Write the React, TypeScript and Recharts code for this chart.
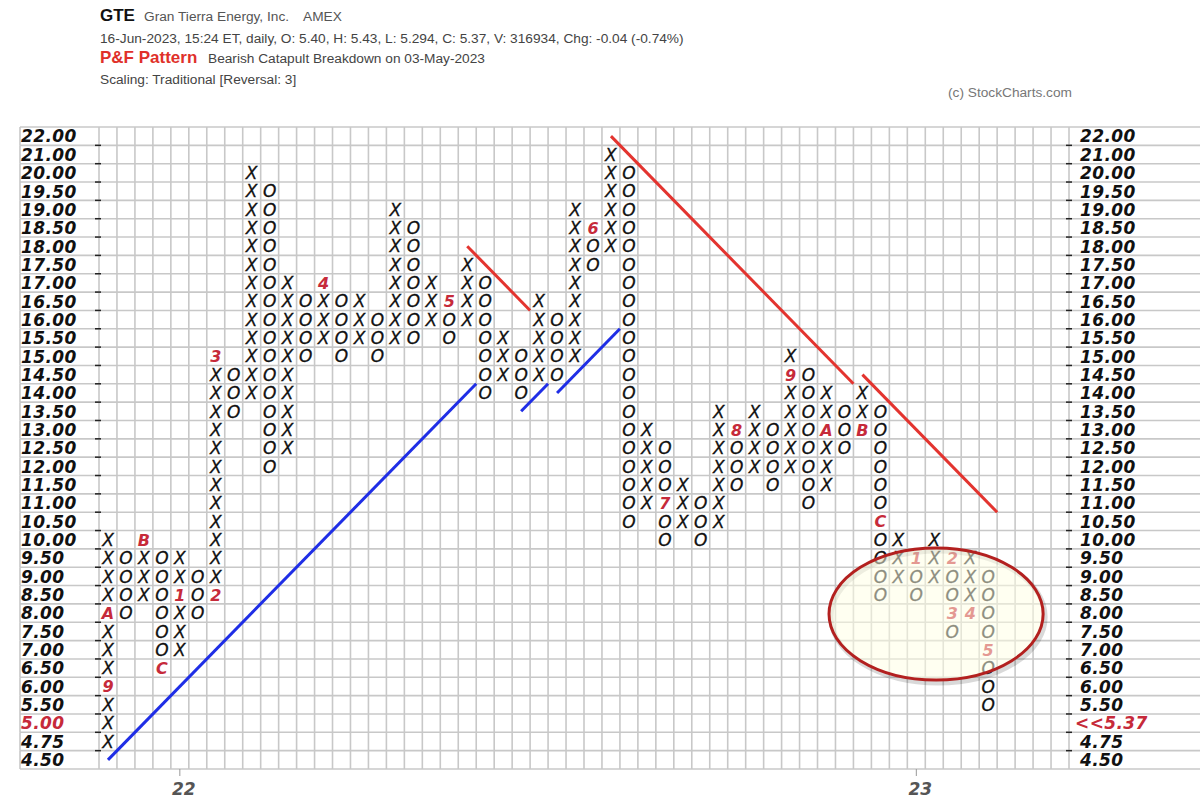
import {
  ScatterChart,
  Scatter,
  XAxis,
  YAxis,
  CartesianGrid,
  ReferenceLine,
} from "recharts";

// traditional box scale, bottom row first
const PRICES = [
  4.5, 4.75, 5, 5.5, 6, 6.5, 7, 7.5, 8, 8.5, 9, 9.5, 10, 10.5, 11, 11.5, 12,
  12.5, 13, 13.5, 14, 14.5, 15, 15.5, 16, 16.5, 17, 17.5, 18, 18.5, 19, 19.5,
  20, 21, 22,
];

// one entry per P&F column
const COL_TYPES = "XOXOXOXOXOXOXOXOXOXOXOXOXOXOXOXOXOXOXOXOXOXOXOXOXO".split("");
const COL_LOW = [
  4.75, 8, 8.5, 6.5, 7, 8, 8.5, 13.5, 14, 12, 12.5, 15, 15.5, 15, 15.5, 15,
  15.5, 15.5, 16, 15.5, 16, 14, 14.5, 14, 14.5, 14.5, 15, 17.5, 18, 10.5, 11,
  10, 10.5, 10, 10.5, 11.5, 12, 11.5, 12, 11, 11.5, 12.5, 13, 8.5, 9, 8.5, 9,
  7.5, 8, 5.5,
];
const COL_HIGH = [
  10, 9.5, 10, 9.5, 9.5, 9, 15, 14.5, 20, 19.5, 17, 16.5, 17, 16.5, 16.5, 16,
  19, 18.5, 17, 16.5, 17.5, 17, 15.5, 15, 16.5, 16, 19, 18.5, 21, 20, 13, 12.5,
  11.5, 11, 13.5, 13, 13.5, 13, 15, 14.5, 14, 13.5, 14, 13.5, 10, 9.5, 10, 9.5,
  9.5, 9,
];

// month markers that replace a box
const MONTH_COLS = [0, 0, 2, 3, 4, 6, 6, 12, 19, 27, 31, 35, 38, 40, 42, 43, 45, 47, 47, 48, 49];
const MONTH_PRICES = [6, 8, 10, 6.5, 8.5, 8.5, 15, 17, 16.5, 18.5, 11, 13, 14.5, 13, 13, 10.5, 9.5, 9.5, 8, 8, 7];
const MONTH_LABELS = ["9", "A", "B", "C", "1", "2", "3", "4", "5", "6", "7", "8", "9", "A", "B", "C", "1", "2", "3", "4", "5"];

const YEAR_COLS = [4, 45];
const YEAR_LABELS = ["22", "23"];

// trend lines in box units: [col1, row1, col2, row2]
const TREND_BLUE = [
  [0, 0, 20.5, 20.5],
  [23, 19, 24.5, 20.5],
  [25, 20, 28.5, 23.5],
];
const TREND_RED = [
  [20, 28, 23.5, 24.5],
  [28, 34, 41.5, 20.5],
  [42, 21, 49.5, 13.5],
];

// highlight ellipse (box units)
const ELLIPSE = { x: 46.1, y: 7.95, rx: 5.96, ry: 3.6 };

const NUM_COLS = 54;
const LAST_PRICE = "<<5.37";

const W = 1200;
const H = 811;
const PLOT_LEFT = 99;
const PLOT_RIGHT = 1069;
const PLOT_TOP = 127;
const PLOT_BOTTOM = 769;
const ROW_H = (PLOT_BOTTOM - PLOT_TOP) / PRICES.length;
const COL_W = (PLOT_RIGHT - PLOT_LEFT) / NUM_COLS;
const GRID = "#c8c8c8";
const MONTH_RED = "#c62a3a";
const AXIS_FONT = "'DejaVu Sans', Verdana, sans-serif";
const HEAD_FONT = "'Liberation Sans', Arial, sans-serif";

const boxes: any[] = [];
COL_TYPES.forEach((t, c) => {
  const lo = PRICES.indexOf(COL_LOW[c]);
  const hi = PRICES.indexOf(COL_HIGH[c]);
  for (let r = lo; r <= hi; r++) {
    const m = MONTH_COLS.findIndex((mc, i) => mc === c && MONTH_PRICES[i] === PRICES[r]);
    boxes.push({ x: c, y: r, mark: m >= 0 ? MONTH_LABELS[m] : t, month: m >= 0 });
  }
});

const rowTicks = PRICES.map((_, i) => i);
const rowBounds = PRICES.map((_, i) => i - 0.5).concat([PRICES.length - 0.5]);
const colBounds = Array.from({ length: NUM_COLS + 1 }, (_, i) => i - 0.5);

const Box = (props: any) => {
  const { cx, cy, payload } = props;
  if (payload.month) {
    return (
      <text x={cx} y={cy + 6} textAnchor="middle" fontFamily={AXIS_FONT}
        fontStyle="italic" fontWeight="bold" fontSize={16} fill={MONTH_RED}>
        {payload.mark}
      </text>
    );
  }
  return (
    <text x={cx} y={cy + 6.2} textAnchor="middle" fontFamily={AXIS_FONT}
      fontStyle="italic" fontSize={17} fill="#111" stroke="#111" strokeWidth={0.3}>
      {payload.mark}
    </text>
  );
};

const Ellipse = (props: any) => {
  const { cx, cy } = props;
  const rx = ELLIPSE.rx * COL_W;
  const ry = ELLIPSE.ry * ROW_H;
  return (
    <g>
      <ellipse cx={cx + 2} cy={cy + 3} rx={rx} ry={ry} fill="none"
        stroke="rgba(0,0,0,0.15)" strokeWidth={5} />
      <ellipse cx={cx} cy={cy} rx={rx} ry={ry} fill="rgba(255,255,228,0.52)"
        stroke="#b3201f" strokeWidth={3} />
    </g>
  );
};

const LeftTick = (props: any) => {
  const { y, payload } = props;
  const r = payload.value;
  const top = y - ROW_H / 2;
  const bottom = y + ROW_H / 2;
  const isFive = PRICES[r] === 5;
  return (
    <g>
      <line x1={20} x2={PLOT_LEFT} y1={top} y2={top} stroke={GRID} strokeWidth={1.6} />
      {r === 0 && <line x1={20} x2={PLOT_LEFT} y1={bottom} y2={bottom} stroke={GRID} strokeWidth={1.6} />}
      <line x1={20} x2={20} y1={top} y2={bottom} stroke={GRID} strokeWidth={1.6} />
      {r > 0 && <line x1={95} x2={101} y1={bottom} y2={bottom} stroke="#222" strokeWidth={1.5} />}
      <text x={21} y={y + 6.3} fontFamily={AXIS_FONT} fontStyle="italic" fontWeight="bold"
        fontSize={17} letterSpacing={0.4} fill={isFive ? MONTH_RED : "#111"}>
        {PRICES[r].toFixed(2)}
      </text>
    </g>
  );
};

const RightTick = (props: any) => {
  const { y, payload } = props;
  const r = payload.value;
  const top = y - ROW_H / 2;
  const bottom = y + ROW_H / 2;
  const isFive = PRICES[r] === 5;
  return (
    <g>
      <line x1={PLOT_RIGHT} x2={W} y1={top} y2={top} stroke={GRID} strokeWidth={1.6} />
      {r === 0 && <line x1={PLOT_RIGHT} x2={W} y1={bottom} y2={bottom} stroke={GRID} strokeWidth={1.6} />}
      {r > 0 && <line x1={1066} x2={1072} y1={bottom} y2={bottom} stroke="#222" strokeWidth={1.5} />}
      <text x={isFive ? 1075 : 1080} y={y + 6.3} fontFamily={AXIS_FONT} fontStyle="italic"
        fontWeight="bold" fontSize={17} letterSpacing={0.4} fill={isFive ? MONTH_RED : "#111"}>
        {isFive ? LAST_PRICE : PRICES[r].toFixed(2)}
      </text>
    </g>
  );
};

const YearTick = (props: any) => {
  const { x, payload } = props;
  const i = YEAR_COLS.indexOf(payload.value);
  return (
    <g>
      <line x1={x} x2={x} y1={PLOT_BOTTOM} y2={PLOT_BOTTOM + 7} stroke="#999" strokeWidth={1} />
      <text x={x + 4} y={PLOT_BOTTOM + 26} textAnchor="middle" fontFamily={AXIS_FONT}
        fontStyle="italic" fontWeight="bold" fontSize={17} fill="#555">
        {YEAR_LABELS[i]}
      </text>
    </g>
  );
};

export default function App() {
  return (
    <div style={{ position: "absolute", left: 0, top: 0, width: W, height: H, background: "#fff" }}>
      <ScatterChart width={W} height={H} margin={{ top: PLOT_TOP, right: 0, bottom: 0, left: 20 }}>
        <CartesianGrid horizontalValues={rowBounds} verticalValues={colBounds}
          stroke={GRID} strokeWidth={1.6} strokeDasharray="" />
        <XAxis type="number" dataKey="x" domain={[-0.5, NUM_COLS - 0.5]} allowDataOverflow
          ticks={YEAR_COLS} interval={0} height={H - PLOT_BOTTOM}
          axisLine={false} tickLine={false} tick={<YearTick />} />
        <YAxis type="number" dataKey="y" domain={[-0.5, PRICES.length - 0.5]} allowDataOverflow
          ticks={rowTicks} interval={0} width={PLOT_LEFT - 20} axisLine={false} tickLine={false}
          tick={<LeftTick />} />
        <YAxis yAxisId="right" orientation="right" type="number" domain={[-0.5, PRICES.length - 0.5]}
          allowDataOverflow ticks={rowTicks} interval={0} width={W - PLOT_RIGHT} axisLine={false}
          tickLine={false} tick={<RightTick />} />
        {TREND_BLUE.map((s, i) => (
          <ReferenceLine key={"b" + i} segment={[{ x: s[0], y: s[1] }, { x: s[2], y: s[3] }]}
            stroke="#1f2ee6" strokeWidth={3} ifOverflow="visible" />
        ))}
        {TREND_RED.map((s, i) => (
          <ReferenceLine key={"r" + i} segment={[{ x: s[0], y: s[1] }, { x: s[2], y: s[3] }]}
            stroke="#e3342f" strokeWidth={3} ifOverflow="visible" />
        ))}
        <Scatter data={boxes} shape={<Box />} isAnimationActive={false} />
        <Scatter data={[{ x: ELLIPSE.x, y: ELLIPSE.y }]} shape={<Ellipse />} isAnimationActive={false} />
      </ScatterChart>
      <svg width={W} height={110} style={{ position: "absolute", left: 0, top: 0, pointerEvents: "none" }}>
        <text x={100} y={21} fontFamily={HEAD_FONT} fontWeight="bold" fontSize={17} fill="#111">GTE</text>
        <text x={144} y={21} fontFamily={HEAD_FONT} fontSize={13.7} fill="#555">Gran Tierra Energy, Inc.</text>
        <text x={303} y={21} fontFamily={HEAD_FONT} fontSize={13.7} fill="#555">AMEX</text>
        <text x={100} y={43} fontFamily={HEAD_FONT} fontSize={13.7} fill="#444">
          16-Jun-2023, 15:24 ET, daily, O: 5.40, H: 5.43, L: 5.294, C: 5.37, V: 316934, Chg: -0.04 (-0.74%)
        </text>
        <text x={100} y={63} fontFamily={HEAD_FONT} fontWeight="bold" fontSize={17} fill="#e0302a">P&amp;F Pattern</text>
        <text x={208} y={63} fontFamily={HEAD_FONT} fontSize={13.7} fill="#444">Bearish Catapult Breakdown on 03-May-2023</text>
        <text x={100} y={84} fontFamily={HEAD_FONT} fontSize={13.7} fill="#444">Scaling: Traditional [Reversal: 3]</text>
        <text x={948} y={97} fontFamily={HEAD_FONT} fontSize={13.7} fill="#777">(c) StockCharts.com</text>
      </svg>
    </div>
  );
}
